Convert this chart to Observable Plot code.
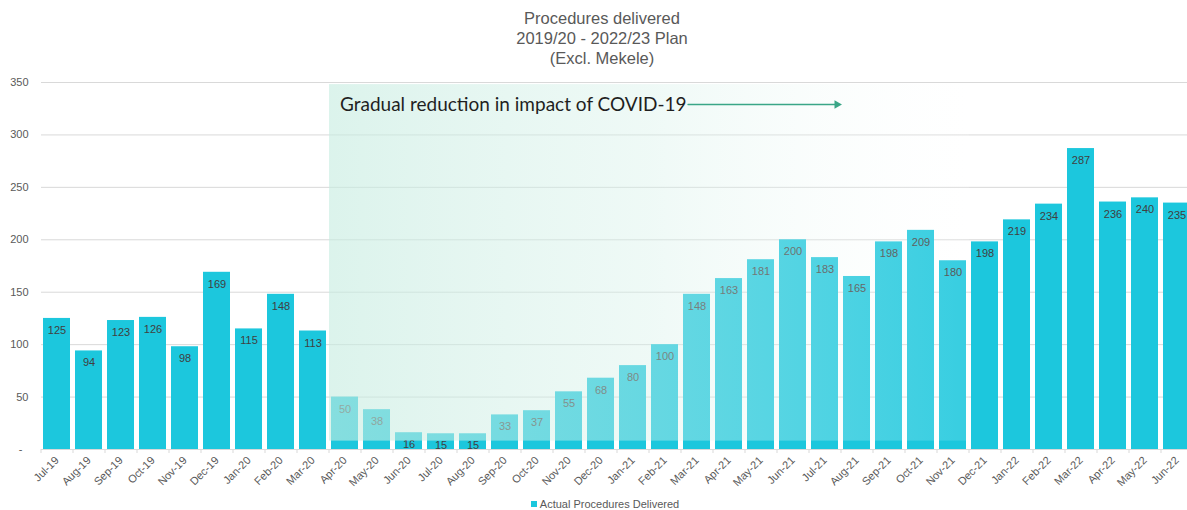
<!DOCTYPE html>
<html>
<head>
<meta charset="utf-8">
<script src="https://cdn.jsdelivr.net/npm/d3@7"></script>
<script src="https://cdn.jsdelivr.net/npm/@observablehq/plot@0.6"></script>
<style>
  html, body { margin: 0; padding: 0; background: #fff; overflow: hidden; width: 1187px; height: 510px; }
  #title { height: 70px; box-sizing: border-box; padding-top: 8px; padding-left: 17px; text-align: center;
           font: 16.5px "Liberation Sans", Arial, sans-serif; line-height: 20px; color: #595959; }
  #chart svg { display: block; }
  #legend { height: 16px; line-height: 16px; padding-left: 23px; text-align: center;
            font: 11px "Liberation Sans", Arial, sans-serif; color: #595959; }
  #legend .sw { display: inline-block; width: 6px; height: 6px; background: #1cc7dd; margin-right: 3px; vertical-align: 1px; }
</style>
</head>
<body>
<div id="title"></div>
<div id="chart"></div>
<div id="legend"></div>
<script>
const titleLines = ["Procedures delivered", "2019/20 - 2022/23 Plan", "(Excl. Mekele)"];
const months = ["Jul-19","Aug-19","Sep-19","Oct-19","Nov-19","Dec-19","Jan-20","Feb-20","Mar-20",
  "Apr-20","May-20","Jun-20","Jul-20","Aug-20","Sep-20","Oct-20","Nov-20","Dec-20","Jan-21","Feb-21","Mar-21",
  "Apr-21","May-21","Jun-21","Jul-21","Aug-21","Sep-21","Oct-21","Nov-21","Dec-21","Jan-22","Feb-22","Mar-22",
  "Apr-22","May-22","Jun-22"];
const procedures = [125,94,123,126,98,169,115,148,113,
  50,38,16,15,15,33,37,55,68,80,100,148,
  163,181,200,183,165,198,209,180,198,219,234,287,
  236,240,235];
const yTicks = [0,50,100,150,200,250,300,350];
const seriesName = "Actual Procedures Delivered";
const annotationText = "Gradual reduction in impact of COVID-19";
const covidFrom = "Apr-20", covidTo = "Nov-21";

const barColor = "#1cc7dd";
const data = months.map((m, i) => ({month: m, value: procedures[i]}));
const covidMonths = months.slice(months.indexOf(covidFrom), months.indexOf(covidTo) + 1);

document.getElementById("title").innerHTML = titleLines.map(t => `<div>${t}</div>`).join("");
document.getElementById("legend").innerHTML = `<span class="sw"></span>${seriesName}`;

const chart = Plot.plot({
  width: 1187,
  height: 428,
  marginLeft: 41,
  marginRight: -6,
  marginTop: 12,
  marginBottom: 49,
  style: {fontFamily: '"Liberation Sans", Arial, sans-serif', fontSize: "11px", color: "#595959", background: "#fff"},
  x: {domain: months, paddingInner: 0.15, paddingOuter: 0.075, label: null},
  y: {domain: [0, 350], label: null},
  marks: [
    Plot.gridY(yTicks, {stroke: "#d9d9d9", strokeOpacity: 1}),
    Plot.axisY(yTicks, {tickSize: 0, tickPadding: 13, fill: "#595959",
      tickFormat: d => d === 0 ? "-\u00a0\u00a0" : String(d)}),
    Plot.axisX({tickSize: 4, tickFormat: () => "", dx: -16, stroke: "#d9d9d9"}),
    Plot.axisX({tickSize: 0, tickPadding: 9, tickRotate: -45, fill: "#595959"}),
    Plot.barY(data, {x: "month", y: "value", fill: barColor}),
    Plot.text(data, {x: "month", y: "value", text: d => String(d.value), dy: 12, fill: "#404040", fontSize: 11}),
    Plot.barY(covidMonths, {x: d => d, y1: () => 8, y2: () => 348, insetLeft: -2, insetRight: -3,
      fill: "url(#covidFade)", className: "covid-fade"}),
    Plot.text([annotationText], {x: () => covidFrom, y: () => 329, text: d => d, textAnchor: "start", dx: -5,
      fontSize: 19, fontFamily: "Lato, 'Open Sans', sans-serif", fill: "#1f1f1f"}),
    Plot.arrow([0], {x1: () => "Feb-21", x2: () => "Aug-21", y1: () => 329, y2: () => 329,
      insetStart: 23, insetEnd: 19, headLength: 0, stroke: "#3aa687", strokeWidth: 1.3}),
    Plot.dot([0], {x: () => "Aug-21", y: () => 329, dx: -20, symbol: "triangle", rotate: 90, r: 3.2,
      fill: "#3aa687", stroke: "none"})
  ]
});

document.getElementById("chart").appendChild(chart);

// gradient spanning the COVID overlay, computed from the rendered rects
const rects = d3.select(chart).selectAll(".covid-fade rect").nodes();
const x0 = d3.min(rects, r => +r.getAttribute("x"));
const x1 = d3.max(rects, r => +r.getAttribute("x") + +r.getAttribute("width"));
const grad = d3.select(chart).insert("defs", ":first-child").append("linearGradient")
  .attr("id", "covidFade").attr("gradientUnits", "userSpaceOnUse")
  .attr("x1", x0).attr("x2", x1).attr("y1", 0).attr("y2", 0);
grad.append("stop").attr("offset", 0).attr("stop-color", "#c6ece0").attr("stop-opacity", 0.62);
grad.append("stop").attr("offset", 0.5).attr("stop-color", "#d6f1e9").attr("stop-opacity", 0.4);
grad.append("stop").attr("offset", 1).attr("stop-color", "#ffffff").attr("stop-opacity", 0.12);
</script>
</body>
</html>
